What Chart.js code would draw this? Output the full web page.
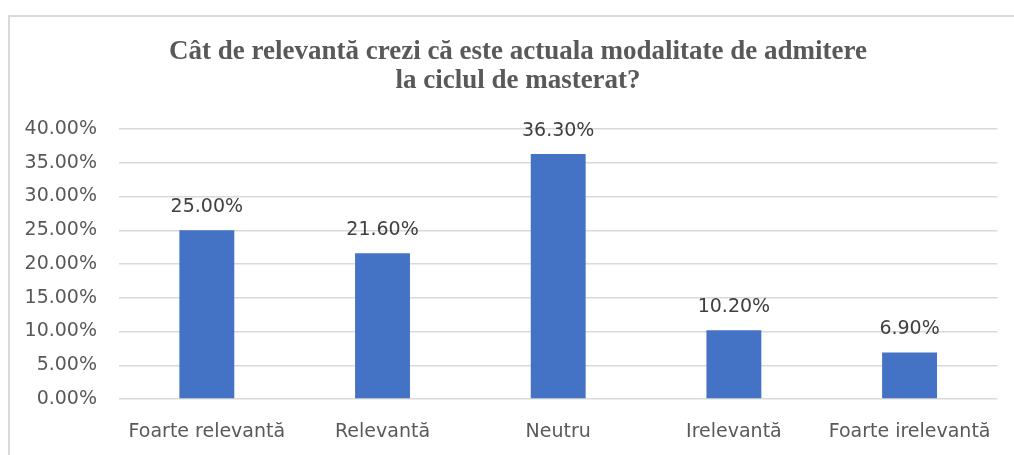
<!DOCTYPE html>
<html><head><meta charset="utf-8">
<script src="https://cdn.jsdelivr.net/npm/chart.js@4"></script>
<style>
html,body{margin:0;padding:0;background:#fff;}
#wrap{position:relative;width:1014px;height:455px;overflow:hidden;}
#frame{position:absolute;left:8px;top:15px;width:1100px;height:500px;border-left:2px solid #d9d9d9;border-top:2px solid #d9d9d9;box-sizing:border-box;}
canvas{position:absolute;left:0;top:0;}
</style></head>
<body><div id="wrap"><div id="frame"></div><canvas id="c" width="1014" height="455"></canvas></div>
<script>
const categories = ["Foarte relevantă", "Relevantă", "Neutru", "Irelevantă", "Foarte irelevantă"];
const values = [25.0, 21.6, 36.3, 10.2, 6.9];
const titleLines = ["Cât de relevantă crezi că este actuala modalitate de admitere", "la ciclul de masterat?"];

const tickFont = {family: "'DejaVu Sans'", size: 19};

const titlePlugin = {
  id: 'titleDraw',
  afterDraw(chart) {
    const ctx = chart.ctx;
    ctx.save();
    ctx.fillStyle = '#595959';
    ctx.font = "bold 27px 'Liberation Serif'";
    ctx.textAlign = 'center';
    ctx.textBaseline = 'alphabetic';
    ctx.fillText(titleLines[0], 518, 59);
    ctx.fillText(titleLines[1], 518, 88);
    ctx.restore();
  }
};

const labelPlugin = {
  id: 'valLabels',
  afterDatasetsDraw(chart) {
    const ctx = chart.ctx;
    const meta = chart.getDatasetMeta(0);
    ctx.save();
    ctx.fillStyle = '#404040';
    ctx.font = "19px 'DejaVu Sans'";
    ctx.textAlign = 'center';
    ctx.textBaseline = 'alphabetic';
    meta.data.forEach((bar, i) => {
      ctx.fillText(values[i].toFixed(2) + '%', bar.x, bar.y - 18);
    });
    ctx.restore();
  }
};

new Chart(document.getElementById('c'), {
  type: 'bar',
  data: {
    labels: categories,
    datasets: [{
      data: values,
      backgroundColor: '#4472C4',
      barPercentage: 0.3125,
      categoryPercentage: 1.0
    }]
  },
  options: {
    responsive: false,
    animation: false,
    layout: {padding: {top: 129, right: 15, left: 0, bottom: 0}},
    plugins: {legend: {display: false}, title: {display: false}, tooltip: {enabled: false}},
    scales: {
      x: {
        grid: {display: false, drawTicks: false},
        border: {display: false},
        ticks: {color: '#595959', font: tickFont, padding: 22, maxRotation: 0},
        afterFit(s) { s.height = 56; }
      },
      y: {
        min: 0, max: 40,
        grid: {color: '#d9d9d9', lineWidth: 1.5, drawTicks: false},
        border: {display: false},
        ticks: {stepSize: 5, color: '#595959', font: tickFont, padding: 22,
          callback: v => v.toFixed(2) + '%'},
        afterFit(s) { s.width = 119; }
      }
    }
  },
  plugins: [titlePlugin, labelPlugin]
});
</script></body></html>
